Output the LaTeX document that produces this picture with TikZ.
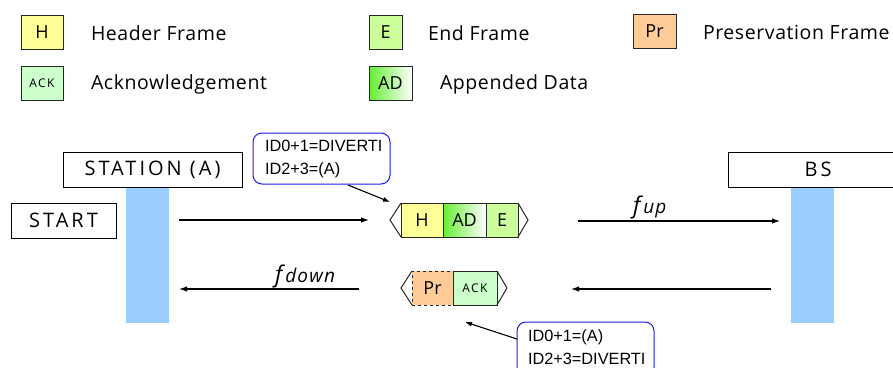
\documentclass[tikz,border=0pt]{standalone}
\usepackage{fontspec}
\setmainfont{Open Sans}
\newfontfamily\arialf{Liberation Sans}
\usetikzlibrary{arrows.meta}
\definecolor{hyel}{HTML}{FFFF99}
\definecolor{egrn}{HTML}{CCFF99}
\definecolor{pror}{HTML}{FFCC99}
\definecolor{ackg}{HTML}{CCFFCC}
\definecolor{adg}{HTML}{66EE33}
\definecolor{barb}{HTML}{99CCFF}
\definecolor{cblue}{HTML}{1A1AF0}
\begin{document}
\begin{tikzpicture}[x=1pt,y=-1pt,
  every node/.style={inner sep=0pt, outer sep=0pt},
  fbox/.style={draw=black!85, line width=1pt, minimum height=34pt, font=\fontsize{18}{20}\selectfont},
  smallfont/.style={font=\fontsize{12}{14}\selectfont\addfontfeature{LetterSpace=12}},
  legtext/.style={anchor=west, font=\fontsize{19.5}{22}\selectfont\addfontfeature{LetterSpace=3}},
  titlebox/.style={draw=black, line width=1pt, minimum height=35pt, font=\fontsize{20}{22}\selectfont\addfontfeature{LetterSpace=15}},
  bar/.style={fill=barb, draw=none},
  callout/.style={draw=cblue, line width=1pt, rounded corners=9pt},
  calltext/.style={anchor=west, align=left, font=\arialf\fontsize{16.3}{23}\selectfont},
  flow/.style={line width=1.2pt, -{Latex[length=8pt,width=5.5pt]}},
  chev/.style={line width=1pt, draw=black!85},
  flabel/.style={anchor=base west, font=\itshape\fontsize{19}{22}\selectfont\addfontfeature{LetterSpace=6}}
]
\useasboundingbox (0,0) rectangle (893,367);

% legend
\node[fbox, fill=hyel, minimum width=42pt] (lH) at (42,32) {H};
\node[legtext] (lHt) at (91,33) {Header Frame};
\node[fbox, fill=egrn, minimum width=33pt] (lE) at (385.5,32) {E};
\node[legtext] (lEt) at (428,33) {End Frame};
\node[fbox, fill=pror, minimum width=43pt] (lPr) at (654.5,31) {Pr};
\node[legtext] (lPrt) at (703,32) {Preservation Frame};
\node[fbox, fill=ackg, minimum width=42pt, smallfont] (lACK) at (42,83) {ACK};
\node[legtext] (lACKt) at (91,84) {Acknowledgement};
\node[fbox, left color=adg, right color=white, minimum width=43pt] (lAD) at (390.5,83) {AD};
\node[legtext] (lADt) at (440,84) {Appended Data};

% stations
\fill[bar] (126,187) rectangle (169,323);
\fill[bar] (791,187) rectangle (834,323);
\node[titlebox, minimum width=179pt] (st) at (152.5,169.5) {STATION (A)};
\node[titlebox, minimum width=180pt] (bs) at (818,169.5) {BS};
\node[titlebox, minimum width=105pt] (start) at (63.5,220.5) {START};

% upper packet
\node[fbox, fill=hyel, minimum width=42pt] (pH) at (422,220) {H};
\node[fbox, left color=adg, right color=white, minimum width=43pt] (pAD) at (464.5,220) {AD};
\node[fbox, fill=egrn, minimum width=32pt] (pE) at (502,220) {E};
\coordinate (ptipL) at (390,220);
\coordinate (ptipR) at (528,220);
\draw[chev] (pH.north west) -- (ptipL) -- (pH.south west);
\draw[chev] (pE.north east) -- (ptipR) -- (pE.south east);

% lower packet
\node[fbox, fill=pror, dashed, minimum width=41pt] (pPr) at (432.5,288) {Pr};
\node[fbox, fill=ackg, minimum width=44pt, smallfont] (pACK) at (475,288) {ACK};
\coordinate (qtipL) at (401,288);
\coordinate (qtipR) at (507,288);
\draw[chev] (pPr.north west) -- (qtipL) -- (pPr.south west);
\draw[chev] (pACK.north east) -- (qtipR) -- (pACK.south east);

% flows
\coordinate (a1s) at (179,220); \coordinate (a1e) at (369,220);
\coordinate (a2s) at (578,221); \coordinate (a2e) at (780,221);
\coordinate (a3s) at (771,289); \coordinate (a3e) at (571,289);
\coordinate (a4s) at (359,289); \coordinate (a4e) at (179,289);
\draw[flow] (a1s) -- (a1e);
\draw[flow] (a2s) -- (a2e);
\draw[flow] (a3s) -- (a3e);
\draw[flow] (a4s) -- (a4e);
\node[flabel] (fup) at (633,213) {{\fontsize{23}{24}\selectfont f}\,up};
\node[flabel] (fdown) at (275,282) {{\fontsize{23}{24}\selectfont f}\,down};

% callouts
\node[callout, minimum width=137pt, minimum height=51pt] (c1) at (321.5,158.5) {};
\node[calltext] (c1t) at (265,158.5) {ID0+1=DIVERTI\\ID2+3=(A)};
\coordinate (c1p) at (348,185);
\coordinate (c1q) at (390,202);
\draw[line width=1.1pt, -{Latex[length=7pt,width=5pt]}] (c1p) -- (c1q);

\node[callout, minimum width=137pt, minimum height=54pt] (c2) at (585.5,349) {};
\node[calltext] (c2t) at (528,347.5) {ID0+1=(A)\\ID2+3=DIVERTI};
\coordinate (c2p) at (517,339);
\coordinate (c2q) at (465,322);
\draw[line width=1.1pt, -{Latex[length=7pt,width=5pt]}] (c2p) -- (c2q);
\end{tikzpicture}
\end{document}
